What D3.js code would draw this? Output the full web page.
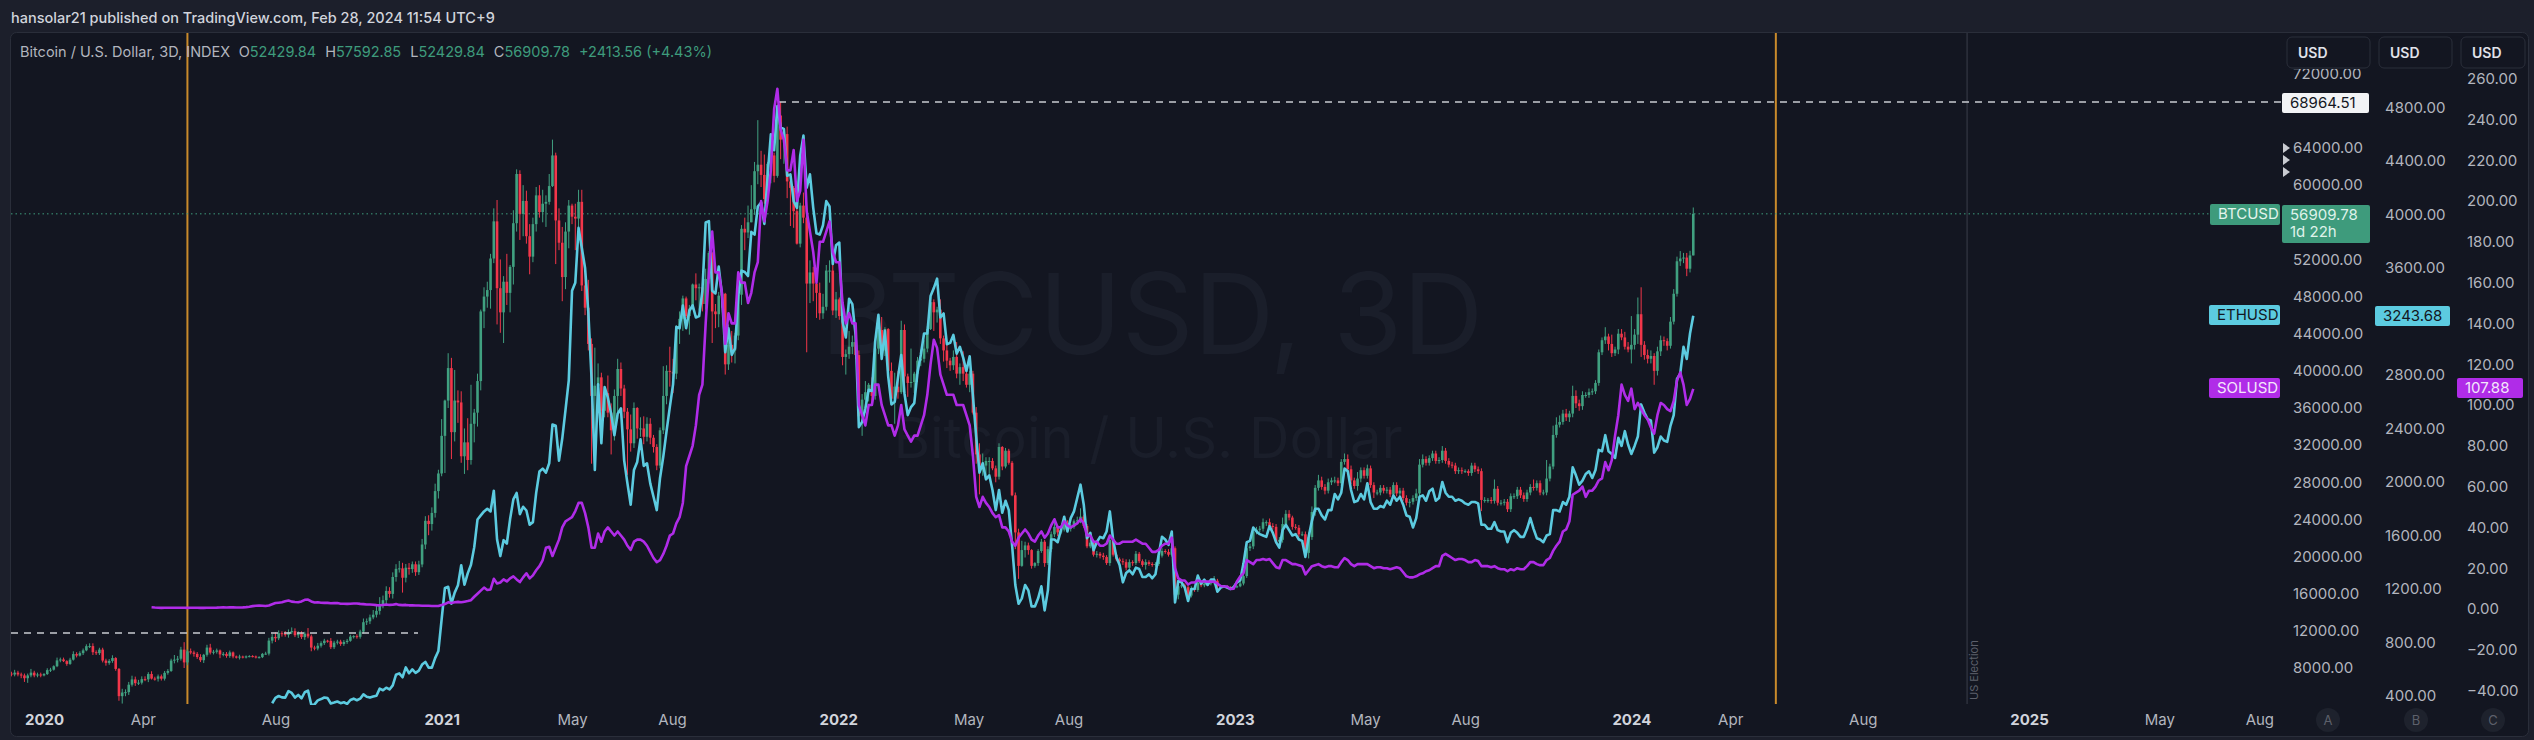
<!DOCTYPE html>
<html><head><meta charset="utf-8">
<script src="https://cdn.jsdelivr.net/npm/d3@7"></script>
<style>
body{margin:0;background:#1c1f2b;overflow:hidden}
svg{display:block;font-family:Inter,"Noto Sans",sans-serif}
</style></head><body>
<svg id="c" width="2534" height="740"></svg>
<script>
// BTC 3D candles, closes in thousands USD, first candle opens 2019-12-02
const btcOpen0 = 7.4;
const btcClose = [
 7.3,7.5,7.3,7.2,6.9,7.2,7.5,7.2,7.3,7.2,
 // 2020
 7.35,7.77,7.82,8.19,8.82,8.92,8.74,8.44,8.9,9.5,9.34,
 9.6,9.9,10.35,10.36,9.7,9.6,9.98,8.8,8.55,
 8.76,9.07,7.9,4.97,5.36,5.4,6.2,6.77,6.37,6.42,6.8,
 6.78,7.35,6.86,6.84,7.1,6.85,7.48,7.68,8.8,8.9,
 9.0,9.98,8.6,9.8,9.67,9.52,9.18,8.84,9.42,10.2,
 9.66,9.75,9.89,9.46,9.52,9.3,9.68,9.24,9.12,9.23,
 9.13,9.25,9.28,9.24,9.13,9.17,9.52,9.55,10.95,11.35,
 11.2,11.75,11.68,11.57,11.85,11.97,11.53,11.75,11.33,11.7,11.4,
 10.2,10.1,10.4,10.68,10.94,10.92,10.24,10.73,10.84,10.58,
 10.8,10.93,11.38,11.43,11.36,11.92,12.93,13.03,13.45,13.74,
 14.15,14.83,15.3,16.3,15.98,17.8,18.68,18.73,17.72,18.8,
 18.65,19.17,18.32,19.15,21.3,23.85,23.5,24.7,27.05,28.95,
 // 2021
 33.0,36.8,40.3,33.4,36.8,36.6,30.8,32.3,30.4,34.3,35.5,
 38.9,46.4,48.0,48.7,52.1,56.1,48.9,46.3,49.6,
 48.4,51.2,55.9,61.2,56.9,58.3,54.5,52.3,55.8,58.9,
 57.1,58.0,58.2,59.9,63.2,56.2,53.8,50.1,55.0,57.8,
 56.6,56.4,58.2,49.2,46.8,42.9,37.3,38.4,39.3,35.7,37.6,
 35.5,33.6,37.3,40.2,38.1,35.6,33.7,32.2,36.0,33.8,
 33.8,32.9,34.3,32.8,31.8,29.8,33.6,37.3,40.0,39.9,
 39.7,44.6,45.6,47.8,45.9,46.7,49.3,48.9,49.0,47.2,
 49.9,52.7,46.4,46.1,48.1,48.3,40.7,42.8,42.2,43.8,
 48.2,55.3,54.9,56.0,57.4,61.5,62.2,61.1,58.5,62.3,63.2,
 61.0,67.5,64.9,65.5,60.4,59.7,57.2,53.7,57.8,56.5,
 49.4,50.6,49.4,48.4,46.2,46.9,50.8,50.8,46.5,47.7,
 // 2022
 45.9,41.5,41.8,42.6,43.1,41.7,35.1,36.9,37.7,38.5,
 37.3,42.4,44.4,42.2,44.5,40.0,37.0,38.3,37.7,44.4,
 39.4,38.7,38.8,39.7,41.1,41.3,42.4,44.5,47.4,46.3,
 46.6,43.5,42.2,41.1,40.6,41.5,39.7,40.4,39.7,38.5,
 39.7,35.5,31.0,29.3,29.8,30.3,30.3,29.5,28.6,31.8,
 29.7,31.4,30.1,26.6,22.6,19.0,20.7,21.2,20.7,19.0,
 19.3,20.6,21.6,19.3,20.8,22.4,23.2,22.6,22.9,23.6,23.0,
 23.2,23.8,23.9,24.3,23.3,21.1,21.5,20.2,20.3,20.1,
 19.95,19.3,21.8,20.2,19.7,19.5,19.4,18.8,19.4,19.3,
 20.3,19.5,19.1,19.4,19.2,19.1,19.2,20.1,20.6,20.5,
 20.2,20.9,15.9,16.8,16.9,16.7,15.8,16.6,16.4,17.2,
 16.9,17.1,17.1,17.2,17.4,16.8,16.8,16.8,16.7,16.6,16.7,
 // 2023
 16.8,17.1,17.9,20.9,21.1,22.7,22.9,23.0,23.7,23.7,
 23.3,23.2,21.6,21.8,23.5,24.6,24.2,23.2,23.1,
 22.4,22.4,20.4,22.1,24.8,27.4,28.2,27.5,27.1,28.0,28.2,
 28.2,27.9,30.2,30.5,29.4,28.2,27.6,28.4,29.3,28.7,
 29.5,27.7,26.9,26.9,27.4,27.1,27.2,26.7,27.7,26.8,
 27.1,26.3,25.8,25.9,26.3,26.8,29.9,30.5,30.1,30.6,
 31.1,30.3,30.4,31.4,30.3,29.9,29.8,29.2,29.3,29.2,
 29.2,29.0,29.8,29.4,29.2,26.1,26.1,26.1,26.0,27.3,25.8,
 25.8,25.9,25.1,26.5,26.5,27.2,26.6,26.2,26.9,27.5,
 27.4,27.9,26.9,26.9,28.4,29.7,33.1,34.2,34.5,35.4,
 35.0,35.4,37.3,36.5,36.2,37.4,37.4,37.7,37.8,38.7,
 42.0,43.3,43.7,42.9,41.9,42.3,44.0,43.6,42.6,42.3,
 // 2024
 42.8,43.9,46.1,42.8,41.7,41.3,41.6,40.0,42.1,43.3,43.2,
 42.7,45.3,48.3,51.8,52.1,52.2,51.0,52.42984,56.90978
];
// upper / lower wick beyond the body, hundreds of USD
const btcWickUp = [
 2,3,2,2,2,2,4,2,2,2,
 1,2,2,1,3,2,2,1,2,3,2, 2,2,2,3,3,2,2,2,2, 2,3,1,1,4,3,3,4,3,3,3,
 3,2,3,2,2,2,2,2,2,5, 3,3,8,2,3,2,2,3,1,3, 4,2,2,1,2,2,2,1,1,2,
 1,1,1,1,1,1,1,2,3,3, 5,3,2,3,3,4,3,2,2,2,6, 2,2,3,2,2,1,3,2,2,2,
 2,2,2,1,2,2,4,3,3,5, 6,8,5,5,4,5,5,8,6,4, 5,3,3,4,6,5,6,6,8,4,
 18,1,16,11,33,11,12,15,26,42,4, 8,2,10,9,5,14,23,31,6, 30,2,14,5,4,17,11,13,7,9,
 11,15,7,13,17,3,13,17,10,6, 2,14,13,13,21,30,6,41,15,5,6, 19,10,7,11,7,4,4,16,6,1,
 12,13,7,6,3,3,3,32,6,26, 14,3,8,3,2,4,1,12,4,5, 11,2,1,8,4,5,1,22,15,3,
 10,4,12,18,26,10,48,15,22,2,10, 3,3,14.65,5,8,5,2,22,3,14, 10,13,6,14,11,14,6,11,12,8,
 2,16,5,17,7,3,5,6,12,2, 8,2,11,14,2,1,9,15,17,10, 6,3,36,2,4,10,9,3,8,3,
 3,11,3,10,3,7,16,4,17,4, 3,3,6,12,13,4,4,3,3,4, 1,3,2,2,3,4,10,4,3,1,
 1,2,3,2,3,3,5,2,3,2,3, 3,2,4,9,2,2,3,2,3,2, 3,2,4,4,2,2,3,3,3,2,
 3,2,2,3,2,2,2,2,3,2, 3,3,2,5,4,2,2,2,2,2, 2,2,2,2,5,2,1,1,1,1,1,
 1,2,2,7,3,3,3,3,4,2, 4,3,3,3,7,4,4,2,3, 3,3,3,5,6,3,6,4,3,4,3,
 4,3,3,6,5,4,3,7,3,3, 4,3,3,3,3,3,3,3,3,3, 3,3,3,3,3,5,6,5,3,3,
 3,3,3,5,3,3,3,3,3,3, 2,2,3,3,3,3,3,2,3,10,3, 3,3,3,3,3,3,3,3,3,3,
 8,3,3,3,20,3,10,8,7,4, 5,3,11,6,4,4,3,4,3,3, 3,3,10,3,10,3,5,5,6,5,
 31,6,18,29,4,6,6,3,5,5,4, 3,5,5,5,8,5,5,5,6.8307
];
const btcWickDn = [
 2,2,2,3,4,5,2,2,2,2,
 1,1,2,1,1,2,1,2,1,1,2, 1,2,1,2,3,2,2,2,3, 2,2,2,5,8,4,3,2,3,2,2,
 2,3,1,2,3,2,2,2,1,3, 3,2,6,3,2,3,2,2,3,2, 2,2,2,4,2,2,2,2,1,2,
 1,1,1,1,1,1,1,1,2,3, 4,2,3,2,3,2,2,3,2,3,2, 4,2,2,2,2,2,2,2,2,2,
 2,2,1,2,2,2,2,3,3,2, 3,4,4,5,4,5,5,4,16,5, 6,4,4,3,3,5,12,7,5,8,
 3,40,8,29,10,22,7,19,11,5,20, 15,10,18,12,20,5,39,22,33, 13,21,19,9,28,24,8,19,6,8,
 6,11,25,3,1,47,8,26,13,18, 8,34,12,6,8,7,73,61,14,10,7, 5,26,11,25,8,7,49,9,5,11,
 9,8,5,7,6,5,3,4,9,16, 21,6,17,13,2,20,1,13,24,8, 6,5,34,15,14,13,11,6,13,14,
 5,11,19,6,0,6,14,13,5,5,21, 7,2,21,26,18,41,18,1,4,6, 74,21,19,27,7,6,4,13,5,8,
 4,9,19,5,8,4,11,21,14,10, 10,4,6,3,6,5,2,27,7,2, 8,15,5,12,9,6,4,4,1,20,
 11,6,12,8,6,5,5,12,8,3, 8,2,10,26,6,11,14,2,6,3, 4,2,2,1,18,14,1,8,5,3,
 2,3,2,4,2,3,3,4,2,2,3, 3,2,3,3,2,2,2,2,3,3, 3,2,3,2,2,3,3,3,3,3,
 2,2,2,5,2,2,2,2,2,2, 2,2,5,5,2,2,2,2,2,2, 2,2,2,2,2,3,2,1,2,2,1,
 1,1,2,2,3,3,3,3,3,4, 3,3,2,3,3,3,3,3,2, 3,2,4,6,3,4,3,3,4,3,3,
 3,3,3,3,4,4,3,5,4,3, 3,3,6,3,3,3,3,3,3,3, 3,3,3,5,3,3,3,3,3,3,
 3,3,3,3,3,3,3,3,3,3, 2,3,3,3,3,12,3,3,3,3,3, 3,3,3,3,3,3,3,3,3,3,
 3,3,3,3,3,3,3,3,3,3, 4,5,4,5,5,4,3,3,3,3, 3,3,4,7,4,3,5,3,3,3,
 15,5,10,13,5,5,5,15,5,5,5, 5,3,3,3,5,5,8,4,0
];
// ETH 3D closes (USD) from 2020-07-29
const ethClose = [
 346,
 386,400,390,388,437,423,388,408,383,428,440,
 335,337,367,377,389,384,344,351,359,346,
 353,341,370,380,368,380,412,394,388,396,
 402,455,443,462,449,479,559,569,540,614,
 570,599,573,590,635,655,612,612,683,737,
 975,1208,1216,1090,1173,1228,1378,1232,1317,1381,1513,
 1720,1750,1780,1800,1780,1935,1570,1446,1565,
 1540,1723,1870,1918,1760,1815,1787,1680,1700,1919,
 2078,2100,2070,2140,2430,2420,2160,2325,2540,2760,
 3430,3490,3900,3750,3600,3270,2770,2090,2730,2290,2710,
 2630,2510,2350,2510,2550,2160,1990,1830,2090,2150,
 2320,2120,2140,1990,1890,1790,2030,2190,2380,2560,
 2730,3160,3150,3320,3150,3280,3320,3230,3240,3430,
 3940,3950,3430,3410,3610,3400,2970,3150,2950,3000,
 3390,3580,3570,3540,3870,3850,4060,4090,3930,4290,4600,
 4480,4810,4650,4640,4290,4300,4100,4050,4440,4590,
 4200,4300,4050,3860,3850,3920,4100,4060,3630,3770,
 3790,3200,3080,3370,3330,3100,2410,2450,2550,2690,
 2680,3050,3250,2920,3130,2790,2580,2600,2780,2950,
 2660,2500,2560,2590,2820,2950,3110,3110,3390,3450,
 3520,3230,3260,3030,3040,3100,2960,3010,2930,2830,
 2940,2640,2340,2070,2140,2020,2050,1940,1790,1940,
 1770,1860,1790,1530,1230,1090,1130,1230,1190,1070,
 1070,1130,1220,1040,1190,1570,1570,1550,1640,1740,1630,
 1730,1780,1880,1980,1830,1580,1620,1490,1550,1590,
 1580,1630,1780,1570,1440,1380,1250,1320,1340,1310,
 1360,1350,1290,1290,1310,1280,1310,1460,1590,1570,
 1530,1630,1100,1260,1250,1210,1110,1200,1200,1300,
 1240,1270,1230,1270,1270,1180,1210,1220,1210,1200,1215,
 1250,1265,1390,1550,1560,1660,1630,1610,1600,1590,
 1670,1620,1550,1510,1640,1680,1640,1600,1610,
 1570,1560,1440,1590,1710,1800,1800,1750,1720,1790,1790,
 1910,1870,1920,2100,2080,1940,1850,1860,1910,1870,
 1990,1850,1800,1800,1820,1810,1860,1830,1900,1860,
 1890,1830,1750,1740,1660,1730,1890,1900,1860,1930,
 1950,1860,1880,2000,1920,1890,1890,1860,1870,1860,
 1840,1830,1850,1850,1840,1680,1680,1650,1650,1700,1640,
 1630,1630,1550,1620,1640,1620,1590,1590,1650,1730,
 1650,1580,1570,1550,1600,1610,1790,1790,1780,1850,
 1830,1890,2110,2050,1980,2010,2060,2080,2030,2090,
 2240,2230,2350,2230,2210,2180,2330,2270,2380,2280,
 2210,2270,2340,2580,2520,2470,2460,2220,2260,2340,2310,
 2300,2420,2500,2770,2810,3010,2920,3110,3243.68
];
// SOL 3D closes (USD) from 2020-04-09
const solClose = [
 0.85,0.70,0.60,0.55,0.62,0.60,0.58,0.62,
 0.64,0.62,0.60,0.56,0.62,0.58,0.58,0.56,0.55,0.58,
 0.60,0.62,0.66,0.74,0.80,0.77,0.80,0.78,0.75,0.75,
 0.80,0.90,1.1,1.4,1.6,1.7,1.6,1.5,1.7,2.3,
 2.9,3.1,3.3,3.8,4.2,3.6,3.4,3.3,3.7,4.5,4.6,
 3.7,3.2,3.3,3.1,3.0,3.0,2.8,2.9,2.9,2.6,
 2.6,2.5,2.6,2.7,2.7,2.5,2.4,2.2,2.2,2.1,
 1.9,1.8,2.0,2.2,2.0,2.1,2.4,2.0,1.9,2.0,
 1.8,1.8,1.7,1.7,1.6,1.6,1.6,1.5,1.5,1.5,
 2.0,2.4,3.3,2.9,3.3,3.5,3.3,3.6,3.9,4.3,6.0,
 7.5,9.0,10.5,9.3,9.6,14.8,12.5,13.0,14.5,
 13.5,15.0,16.0,14.5,13.2,15.5,17.5,15.0,16.5,19.0,
 21,24,30,30.5,26,30,34,40,43,44,
 45,48,52,52,47,40,30,30,37,33,38,
 40,38,36,38,36,34,31,29,33,34,
 34,33,31,28,25,23,24,27,31,36,
 37,42,45,52,70,75,80,90,105,110,
 140,165,185,165,165,155,130,145,140,140,
 165,160,160,150,155,165,170,200,190,200,215,
 245,255,235,230,215,215,225,200,205,230,
 195,185,175,160,180,180,185,190,175,170,
 170,150,140,145,140,140,100,95,90,100,
 100,110,110,100,95,90,90,85,90,100,
 88,85,82,85,85,90,95,105,120,132,
 128,115,110,105,105,105,100,100,100,95,
 90,75,55,50,55,52,50,47,45,46,
 40,40,38,33,31,35,37,39,37,34,
 33,36,38,35,37,41,44,40,40,43,41,
 40,41,42,44,42,36,36,33,33,31,
 31,32,36,34,32,32,33,33,33,33,
 34,33,32,32,30,28,28,29,31,32,
 32,35,20,15,14,14,12,13,13,14,
 13.5,13.5,13.4,13.5,13.4,12.5,11.3,11.0,11.0,9.8,10.0,
 13.5,16,17.5,24,23,22,24,24,24.5,24,
 24.5,22.5,20.5,20,24,24,23,22,22,
 21.5,21,17,19,21,21.5,22,21,20.5,21,21,
 20.5,20.5,23,25,24,22,21,22,22,22,
 22,21,20,20.5,20.5,20,20,19.5,20,20.5,
 20,18,16,15.5,15.5,16,17,17.5,18.5,19,
 20,21,21,26,27,26,25,24,24.5,24.5,
 24,23,23,24,23.5,21,21,21,20.5,21,20,
 19.5,19.5,18.5,19.5,19,20,19.5,19.5,21,23,
 23,22,21.5,21.5,24,25,28.5,31,33,38,
 39,43,56,57,58,60,55,58,58,60,
 63,64,72,68,73,85,95,110,105,102,
 108,98,101,98,95,93,89,86,95,101,100,
 98,97,102,112,116,110,100,103,107.88
];
// scale labels that the reference shows (the ones under the price tags are hidden there)
const btcTicks = [8000,12000,16000,20000,24000,28000,32000,36000,40000,44000,48000,52000,60000,64000,72000];
const ethTicks = [400,800,1200,1600,2000,2400,2800,3600,4000,4400,4800];
const solTicks = d3.range(-40, 261, 20);
const xTickDates = ['2020-01-01','2020-04-01','2020-08-01','2021-01-01','2021-05-01','2021-08-01',
 '2022-01-01','2022-05-01','2022-08-01','2023-01-01','2023-05-01','2023-08-01',
 '2024-01-01','2024-04-01','2024-08-01','2025-01-01','2025-05-01','2025-08-01'];
const xTickLabels = ['2020','Apr','Aug','2021','May','Aug','2022','May','Aug','2023','May','Aug',
 '2024','Apr','Aug','2025','May','Aug'];
const markerDates = ['2020-05-12','2024-05-13'];
const electionDate = '2024-11-05';
const athValue = 68964.51;
const lowLevel = 11770;

const parse = d3.timeParse('%Y-%m-%d');
const svg = d3.select('#c');
const x = d3.scaleTime().domain([new Date(2020,0,1), new Date(2025,0,1)]).range([44, 2029]);
const yBtc = d3.scaleLinear().domain([8000, 64000]).range([668, 148]);
const yEth = d3.scaleLinear().domain([400, 4800]).range([696, 107.5]);
const ySol = d3.scaleLinear().domain([0, 260]).range([609, 78.6]);
const step = (start, i) => x(d3.timeDay.offset(start, 3 * i));

// frame
svg.append('rect').attr('width', 2534).attr('height', 740).attr('fill', '#1c1f2b');
svg.append('rect').attr('x', 10.5).attr('y', 32.5).attr('width', 2518).attr('height', 704)
  .attr('rx', 6).attr('fill', '#131621').attr('stroke', '#2a2e3a');
svg.append('text').attr('x', 11).attr('y', 23).attr('fill', '#d1d4dc').attr('font-size', 14.5)
  .attr('font-weight', 500).text('hansolar21 published on TradingView.com, Feb 28, 2024 11:54 UTC+9');

// watermark
svg.append('text').attr('x', 1152).attr('y', 354).attr('text-anchor', 'middle').attr('font-size', 112)
  .attr('fill', '#1a1e2a').text('BTCUSD, 3D');
svg.append('text').attr('x', 1148).attr('y', 458).attr('text-anchor', 'middle').attr('font-size', 56)
  .attr('fill', '#1a1e2a').text('Bitcoin / U.S. Dollar');

svg.append('clipPath').attr('id', 'pc').append('rect').attr('x', 11).attr('y', 33).attr('width', 2270).attr('height', 672);
const plot = svg.append('g').attr('clip-path', 'url(#pc)');

// vertical markers
plot.selectAll('.mk').data(markerDates).join('line').attr('class', 'mk')
  .attr('x1', d => x(parse(d))).attr('x2', d => x(parse(d))).attr('y1', 33).attr('y2', 704)
  .attr('stroke', '#c98a2b').attr('stroke-width', 2);
const ex = x(parse(electionDate));
plot.append('line').attr('x1', ex).attr('x2', ex).attr('y1', 33).attr('y2', 704).attr('stroke', '#3b3f4b');
svg.append('text').attr('transform', `translate(${ex + 11},700) rotate(-90)`).attr('font-size', 11)
  .attr('fill', '#5d606b').text('US Election');

// last price line
const lastY = yBtc(56909.78);
plot.append('line').attr('x1', 11).attr('x2', 2210).attr('y1', lastY).attr('y2', lastY)
  .attr('stroke', '#3e9b7c').attr('stroke-dasharray', '1.5,3');

// candles
const btcStart = new Date(2019, 11, 2);
const candles = btcClose.map((c, i) => {
  const o = i ? btcClose[i - 1] : btcOpen0;
  return {x: step(btcStart, i), o: o * 1000, c: c * 1000,
    h: Math.max(o, c) * 1000 + (btcWickUp[i] || 0) * 100,
    l: Math.min(o, c) * 1000 - (btcWickDn[i] || 0) * 100};
});
const col = d => d.c >= d.o ? '#40a080' : '#f2364a';
plot.append('g').selectAll('line').data(candles).join('line')
  .attr('x1', d => d.x).attr('x2', d => d.x).attr('y1', d => yBtc(d.h)).attr('y2', d => yBtc(d.l))
  .attr('stroke', col).attr('stroke-width', 1);
plot.append('g').selectAll('rect').data(candles).join('rect')
  .attr('x', d => d.x - 1.3).attr('width', 2.6)
  .attr('y', d => Math.min(yBtc(d.o), yBtc(d.c)))
  .attr('height', d => Math.max(1, Math.abs(yBtc(d.o) - yBtc(d.c))))
  .attr('fill', col);

// dashed levels
const athY = yBtc(athValue);
plot.append('line').attr('x1', 779).attr('x2', 2282).attr('y1', athY).attr('y2', athY)
  .attr('stroke', '#c9cbd1').attr('stroke-width', 1.5).attr('stroke-dasharray', '7,6');
plot.append('line').attr('x1', 11).attr('x2', 418).attr('y1', yBtc(lowLevel)).attr('y2', yBtc(lowLevel))
  .attr('stroke', '#c9cbd1').attr('stroke-width', 1.5).attr('stroke-dasharray', '7,6');

// compare lines
const ethStart = new Date(2020, 6, 29), solStart = new Date(2020, 3, 9);
plot.append('path').datum(ethClose).attr('fill', 'none').attr('stroke', '#5ccbe0').attr('stroke-width', 2.6)
  .attr('stroke-linejoin', 'round')
  .attr('d', d3.line().x((d, i) => step(ethStart, i)).y(d => yEth(d)));
plot.append('path').datum(solClose).attr('fill', 'none').attr('stroke', '#b02ce8').attr('stroke-width', 2.6)
  .attr('stroke-linejoin', 'round')
  .attr('d', d3.line().x((d, i) => step(solStart, i)).y(d => ySol(d)));

// legend
const lg = svg.append('text').attr('x', 20).attr('y', 57).attr('font-size', 14.5).attr('fill', '#b2b5be');
lg.append('tspan').text('Bitcoin / U.S. Dollar, 3D, INDEX');
[['O', '52429.84'], ['H', '57592.85'], ['L', '52429.84'], ['C', '56909.78']].forEach(([k, v]) => {
  lg.append('tspan').attr('dx', 9).text(k);
  lg.append('tspan').attr('fill', '#3e9b7c').text(v);
});
lg.append('tspan').attr('dx', 9).attr('fill', '#3e9b7c').text('+2413.56 (+4.43%)');

// price axes
svg.append('clipPath').attr('id', 'ac').append('rect').attr('x', 2280).attr('y', 69).attr('width', 254).attr('height', 671);
const axisStyle = g => {
  g.select('.domain').remove();
  g.selectAll('text').attr('fill', '#b2b5be').attr('font-size', 15).attr('font-family', 'Inter,"Noto Sans",sans-serif');
};
const axes = svg.append('g').attr('clip-path', 'url(#ac)');
axes.append('g').attr('transform', 'translate(2293,0)')
  .call(d3.axisRight(yBtc).tickValues(btcTicks).tickSize(0).tickPadding(0).tickFormat(d3.format('.2f'))).call(axisStyle);
axes.append('g').attr('transform', 'translate(2385,0)')
  .call(d3.axisRight(yEth).tickValues(ethTicks).tickSize(0).tickPadding(0).tickFormat(d3.format('.2f'))).call(axisStyle);
axes.append('g').attr('transform', 'translate(2467,0)')
  .call(d3.axisRight(ySol).tickValues(solTicks).tickSize(0).tickPadding(0).tickFormat(d => d3.format('.2f')(d).replace('-', '−'))).call(axisStyle);

// time axis
const xa = svg.append('g').attr('transform', 'translate(0,714)')
  .call(d3.axisBottom(x).tickValues(xTickDates.map(parse)).tickSize(0).tickPadding(0)
    .tickFormat((d, i) => xTickLabels[i]));
xa.select('.domain').remove();
xa.selectAll('text').attr('font-size', 15).attr('font-family', 'Inter,"Noto Sans",sans-serif')
  .attr('fill', (d, i) => /^\d/.test(xTickLabels[i]) ? '#d1d4dc' : '#b2b5be')
  .attr('font-weight', (d, i) => /^\d/.test(xTickLabels[i]) ? 700 : 400);

// tags on the scales
function tag(x0, y0, w, h, fill, color, lines) {
  svg.append('rect').attr('x', x0).attr('y', y0).attr('width', w).attr('height', h).attr('rx', 2).attr('fill', fill);
  lines.forEach((t, k) => svg.append('text').attr('x', x0 + 8).attr('y', y0 + 15 + k * 17)
    .attr('font-size', 15).attr('fill', color).text(t));
}
tag(2210, 204, 70, 21, '#3e9b7c', '#e4f4ec', ['BTCUSD']);
tag(2282, 205, 88, 38, '#3e9b7c', '#dff2ea', ['56909.78', '1d 22h']);
tag(2209, 305, 71, 20, '#5ccbe0', '#131722', ['ETHUSD']);
tag(2375, 306, 75, 20, '#5ccbe0', '#131722', ['3243.68']);
tag(2209, 378, 71, 20, '#b02ce8', '#f4e6fb', ['SOLUSD']);
tag(2457, 378, 66, 20, '#b02ce8', '#f4e6fb', ['107.88']);
tag(2282, 93, 87, 20, '#f2f3f5', '#131722', ['68964.51']);

// arrows on the first scale
[148, 160, 172].forEach(yy => svg.append('path')
  .attr('d', `M2283,${yy - 5}L2290,${yy}L2283,${yy + 5}Z`).attr('fill', '#c9cbd1'));

// currency buttons
[[2287, 83], [2379, 73], [2461, 64]].forEach(([bx, bw]) => {
  svg.append('rect').attr('x', bx).attr('y', 37).attr('width', bw).attr('height', 31).attr('rx', 5)
    .attr('fill', '#131621').attr('stroke', '#2a2e3a');
  svg.append('text').attr('x', bx + 11).attr('y', 58).attr('font-size', 14).attr('font-weight', 600)
    .attr('fill', '#e1e3ea').text('USD');
});

// scale letters
[['A', 2328], ['B', 2416], ['C', 2493]].forEach(([t, cx]) => {
  svg.append('circle').attr('cx', cx).attr('cy', 720).attr('r', 12).attr('fill', '#1e222d');
  svg.append('text').attr('x', cx).attr('y', 725).attr('text-anchor', 'middle').attr('font-size', 13)
    .attr('fill', '#5d606b').text(t);
});
</script>
</body></html>
